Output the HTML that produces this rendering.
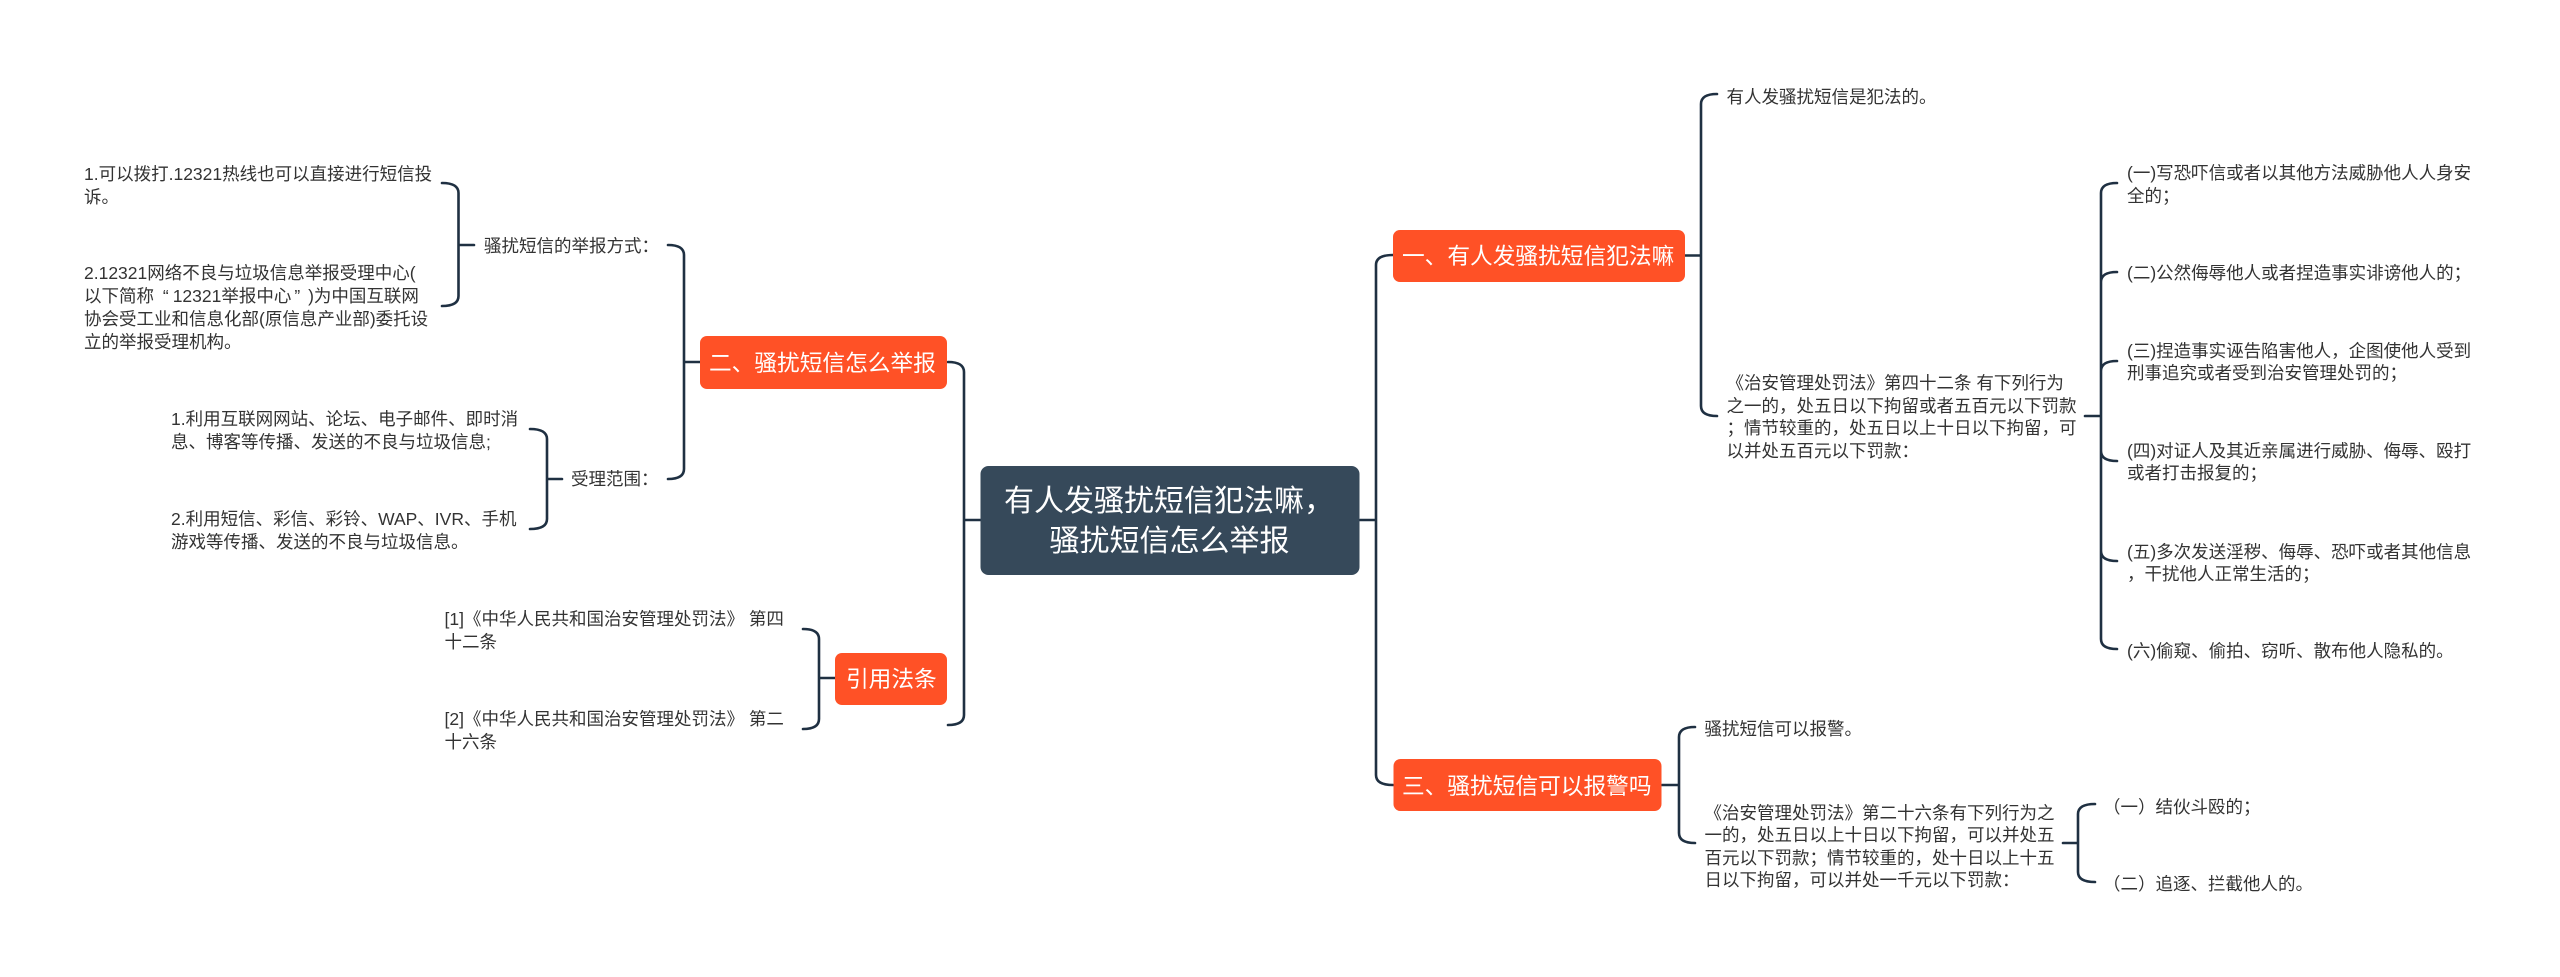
<!DOCTYPE html>
<html lang="zh"><head><meta charset="utf-8"><title>有人发骚扰短信犯法嘛，骚扰短信怎么举报</title>
<style>
html,body{margin:0;padding:0;background:#fff;width:2560px;height:977px;overflow:hidden}
svg{display:block}
text{font-family:"Liberation Sans","Noto Sans CJK SC",sans-serif;white-space:pre}
.t{font-size:17.5px;fill:#333}
.n{font-size:22.7px;fill:#fff}
.c{font-size:30px;fill:#fff;text-anchor:middle}
.l{fill:none;stroke:#1f3042;stroke-width:2.6;stroke-linecap:round}
</style></head><body>
<svg width="2560" height="977" viewBox="0 0 2560 977" xmlns="http://www.w3.org/2000/svg">
<rect width="2560" height="977" fill="#fff"/>
<!-- connectors -->
<path class="l" d="M981 520H964M964 372V715Q964 725 948 725M964 372Q964 362 948 362"/>
<path class="l" d="M1360 520H1376M1376 265V775Q1376 785 1393 785M1376 265Q1376 255 1393 255"/>
<path class="l" d="M700 362H684M684 255V469Q684 479 668 479M684 255Q684 245 668 245"/>
<path class="l" d="M474 245H458.5M458.5 193V296Q458.5 306 442 306M458.5 193Q458.5 183 442 183"/>
<path class="l" d="M562 479H547M547 439V519Q547 529 530 529M547 439Q547 429 530 429"/>
<path class="l" d="M835 678H819M819 639V719Q819 729 803 729M819 639Q819 629 803 629"/>
<path class="l" d="M1685 255.500H1701M1701 104V406Q1701 416 1717 416M1701 104Q1701 94 1717 94"/>
<path class="l" d="M2085 416H2101M2101 193V639Q2101 649 2117 649M2101 193Q2101 183 2117 183M2101 282Q2101 272 2117 272M2101 371Q2101 361 2117 361M2101 451Q2101 461 2117 461M2101 551Q2101 561 2117 561"/>
<path class="l" d="M1662 785H1679M1679 737V833Q1679 843 1695 843M1679 737Q1679 727 1695 727"/>
<path class="l" d="M2063 843H2078M2078 814V872Q2078 882 2095 882M2078 814Q2078 804 2095 804"/>
<!-- nodes -->
<rect x="980.500" y="466" width="379" height="109" rx="8" fill="#36495a"/>
<rect x="700" y="336" width="247" height="53" rx="7" fill="#ff5126"/>
<rect x="835" y="653" width="112" height="52" rx="7" fill="#ff5126"/>
<rect x="1393" y="230" width="292" height="52" rx="7" fill="#ff5126"/>
<rect x="1393.500" y="759" width="268" height="52" rx="7" fill="#ff5126"/>
<text class="c" x="1169" y="511">有人发骚扰短信犯法嘛，</text>
<text class="c" x="1169.500" y="551">骚扰短信怎么举报</text>
<text class="n" x="709" y="371">二、骚扰短信怎么举报</text>
<text class="n" x="846" y="687">引用法条</text>
<text class="n" x="1402" y="264">一、有人发骚扰短信犯法嘛</text>
<text class="n" x="1402" y="794">三、骚扰短信可以报警吗</text>
<!-- left -->
<text class="t" x="84" y="180">1.可以拨打.12321热线也可以直接进行短信投</text>
<text class="t" x="84" y="203">诉。</text>
<text class="t" x="84" y="279">2.12321网络不良与垃圾信息举报受理中心(</text>
<text class="t" x="84" y="302">以下简称 <tspan dx="4">“</tspan><tspan dx="4">12321举报中心</tspan><tspan dx="3">”</tspan> <tspan dx="3">)为中国互联网</tspan></text>
<text class="t" x="84" y="325">协会受工业和信息化部(原信息产业部)委托设</text>
<text class="t" x="84" y="348">立的举报受理机构。</text>
<text class="t" x="484" y="252">骚扰短信的举报方式：</text>
<text class="t" x="171" y="425">1.利用互联网网站、论坛、电子邮件、即时消</text>
<text class="t" x="171" y="448">息、博客等传播、发送的不良与垃圾信息;</text>
<text class="t" x="171" y="525">2.利用短信、彩信、彩铃、WAP、IVR、手机</text>
<text class="t" x="171" y="548">游戏等传播、发送的不良与垃圾信息。</text>
<text class="t" x="571" y="485">受理范围：</text>
<text class="t" x="444.500" y="625">[1]《中华人民共和国治安管理处罚法》 第四</text>
<text class="t" x="444.500" y="648">十二条</text>
<text class="t" x="444.500" y="725">[2]《中华人民共和国治安管理处罚法》 第二</text>
<text class="t" x="444.500" y="748">十六条</text>
<!-- right top -->
<text class="t" x="1726.500" y="103">有人发骚扰短信是犯法的。</text>
<text class="t" x="1726.500" y="389">《治安管理处罚法》第四十二条 有下列行为</text>
<text class="t" x="1726.500" y="412">之一的，处五日以下拘留或者五百元以下罚款</text>
<text class="t" x="1726.500" y="434">；情节较重的，处五日以上十日以下拘留，可</text>
<text class="t" x="1726.500" y="457">以并处五百元以下罚款：</text>
<text class="t" x="2127" y="179">(一)写恐吓信或者以其他方法威胁他人人身安</text>
<text class="t" x="2127" y="202">全的；</text>
<text class="t" x="2127" y="279">(二)公然侮辱他人或者捏造事实诽谤他人的；</text>
<text class="t" x="2127" y="357">(三)捏造事实诬告陷害他人，企图使他人受到</text>
<text class="t" x="2127" y="379">刑事追究或者受到治安管理处罚的；</text>
<text class="t" x="2127" y="457">(四)对证人及其近亲属进行威胁、侮辱、殴打</text>
<text class="t" x="2127" y="479">或者打击报复的；</text>
<text class="t" x="2127" y="558">(五)多次发送淫秽、侮辱、恐吓或者其他信息</text>
<text class="t" x="2127" y="580">，干扰他人正常生活的；</text>
<text class="t" x="2127" y="657">(六)偷窥、偷拍、窃听、散布他人隐私的。</text>
<!-- right bottom -->
<text class="t" x="1704.500" y="735">骚扰短信可以报警。</text>
<text class="t" x="1704.500" y="819">《治安管理处罚法》第二十六条有下列行为之</text>
<text class="t" x="1704.500" y="841">一的，处五日以上十日以下拘留，可以并处五</text>
<text class="t" x="1704.500" y="864">百元以下罚款；情节较重的，处十日以上十五</text>
<text class="t" x="1704.500" y="886">日以下拘留，可以并处一千元以下罚款：</text>
<text class="t" x="2103" y="813">（一）结伙斗殴的；</text>
<text class="t" x="2103" y="890">（二）追逐、拦截他人的。</text>
</svg>
</body></html>
